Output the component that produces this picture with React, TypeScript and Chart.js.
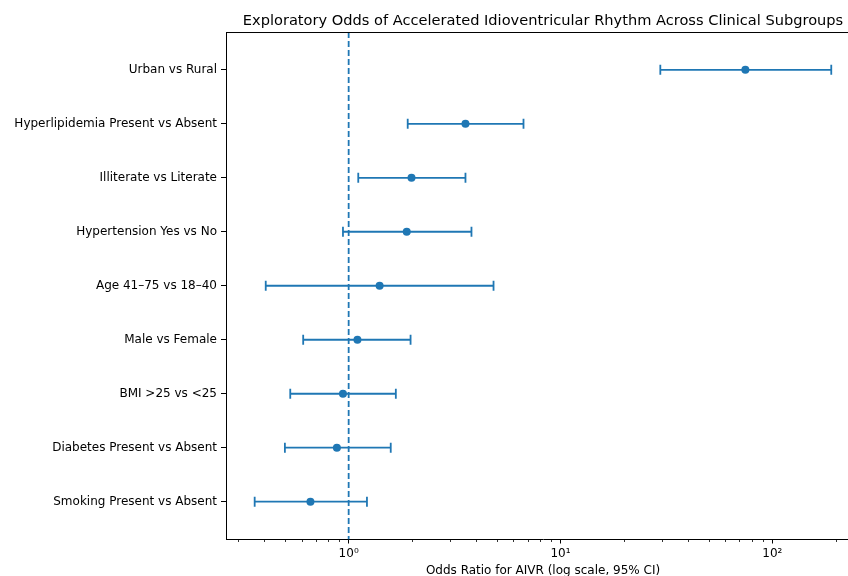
import React, { useEffect, useRef } from "react";
import { Chart, registerables } from "chart.js";

Chart.register(...registerables);

const categories = [
  "Urban vs Rural",
  "Hyperlipidemia Present vs Absent",
  "Illiterate vs Literate",
  "Hypertension Yes vs No",
  "Age 41–75 vs 18–40",
  "Male vs Female",
  "BMI >25 vs <25",
  "Diabetes Present vs Absent",
  "Smoking Present vs Absent",
];
const oddsRatios = [74.6, 3.56, 1.98, 1.88, 1.4, 1.1, 0.94, 0.88, 0.66];
const ciLower = [29.6, 1.9, 1.11, 0.94, 0.406, 0.61, 0.53, 0.5, 0.36];
const ciUpper = [189.8, 6.69, 3.56, 3.8, 4.83, 1.96, 1.67, 1.58, 1.22];
const referenceOR = 1;
const majorTicks = [1, 10, 100];
const majorTickLabels = ["10⁰", "10¹", "10²"];
const minorTicks = [0.3, 0.4, 0.5, 0.6, 0.7, 0.8, 0.9, 2, 3, 4, 5, 6, 7, 8, 9, 20, 30, 40, 50, 60, 70, 80, 90, 200];
const xMin = 0.2636;
const xMax = 259.4;
const yMin = -0.7;
const yMax = 8.7;

const titleText = "Exploratory Odds of Accelerated Idioventricular Rhythm Across Clinical Subgroups";
const xTitle = "Odds Ratio for AIVR (log scale, 95% CI)";

const BLUE = "#1f77b4";
const FONT = "'DejaVu Sans', sans-serif";

export default function App() {
  const ref = useRef<HTMLCanvasElement | null>(null);

  useEffect(() => {
    const canvas = ref.current;
    if (!canvas) return;

    const framePlugin = {
      id: "frame",
      beforeDraw(chart: any) {
        const { ctx } = chart;
        ctx.save();
        ctx.fillStyle = "#ffffff";
        ctx.fillRect(0, 0, chart.width, chart.height);
        ctx.restore();
      },
      afterDraw(chart: any) {
        const { ctx, chartArea } = chart;
        const xs = chart.scales.x;
        ctx.save();
        ctx.strokeStyle = "#000";
        ctx.lineWidth = 1;
        ctx.beginPath();
        ctx.moveTo(chartArea.left, chartArea.top + 0.5);
        ctx.lineTo(chartArea.right, chartArea.top + 0.5);
        ctx.moveTo(chartArea.right - 0.5, chartArea.top);
        ctx.lineTo(chartArea.right - 0.5, chartArea.bottom);
        ctx.stroke();
        ctx.lineWidth = 0.8;
        ctx.beginPath();
        for (const v of minorTicks) {
          const px = Math.round(xs.getPixelForValue(v)) + 0.5;
          ctx.moveTo(px, chartArea.bottom);
          ctx.lineTo(px, chartArea.bottom + 2.5);
        }
        ctx.stroke();
        ctx.restore();
      },
    };

    const ciDatasets = categories.map((_, i) => ({
      type: "scatter" as const,
      label: "ci" + i,
      data: [
        { x: ciLower[i], y: i },
        { x: ciUpper[i], y: i },
      ],
      showLine: true,
      borderColor: BLUE,
      borderWidth: 1.8,
      pointStyle: "line" as const,
      rotation: 90,
      pointRadius: 5,
      pointBorderWidth: 1.8,
      pointBorderColor: BLUE,
      pointBackgroundColor: BLUE,
      order: 2,
    }));

    const chart = new Chart(canvas, {
      type: "scatter",
      data: {
        datasets: [
          {
            label: "ref",
            data: [
              { x: referenceOR, y: yMin },
              { x: referenceOR, y: yMax },
            ],
            showLine: true,
            borderColor: BLUE,
            borderWidth: 1.8,
            borderDash: [6, 3],
            pointRadius: 0,
            order: 0,
          },
          {
            label: "or",
            data: oddsRatios.map((v, i) => ({ x: v, y: i })),
            pointRadius: 4,
            pointBackgroundColor: BLUE,
            pointBorderWidth: 0,
            borderColor: BLUE,
            backgroundColor: BLUE,
            order: 1,
          },
          ...ciDatasets,
        ] as any,
      },
      options: {
        responsive: false,
        animation: false,
        devicePixelRatio: 1,
        layout: { padding: { left: 0, right: 20, top: 0, bottom: 0 } },
        plugins: {
          legend: { display: false },
          tooltip: { enabled: false },
          title: {
            display: true,
            text: titleText,
            fullSize: false,
            color: "#000",
            font: { family: FONT, size: 14.6, weight: "normal" as any, lineHeight: 1.2 },
            padding: { top: 12.2, bottom: 2.3 },
          },
        },
        scales: {
          x: {
            type: "logarithmic",
            position: "bottom",
            min: xMin,
            max: xMax,
            afterBuildTicks: (scale: any) => {
              scale.ticks = majorTicks.map((v) => ({ value: v, major: true }));
            },
            afterFit: (scale: any) => {
              scale.height = 50.5;
            },
            ticks: {
              color: "#000",
              font: { family: FONT, size: 12 },
              padding: 3,
              autoSkip: false,
              maxRotation: 0,
              callback: (value: any) => {
                const idx = majorTicks.indexOf(Number(value));
                return idx >= 0 ? majorTickLabels[idx] : "";
              },
            },
            grid: {
              display: true,
              drawOnChartArea: false,
              drawTicks: true,
              tickLength: 4,
              tickColor: "#000",
              tickWidth: 1,
            },
            border: { display: true, color: "#000", width: 1 },
            title: {
              display: true,
              text: xTitle,
              color: "#000",
              font: { family: FONT, size: 12, lineHeight: 1.2 },
              padding: { top: 2, bottom: 12.3 },
            },
          },
          y: {
            type: "linear",
            position: "left",
            reverse: true,
            min: yMin,
            max: yMax,
            afterBuildTicks: (scale: any) => {
              scale.ticks = categories.map((_, i) => ({ value: i }));
            },
            afterFit: (scale: any) => {
              scale.width = 226;
            },
            ticks: {
              color: "#000",
              font: { family: FONT, size: 12 },
              padding: 4,
              autoSkip: false,
              callback: (value: any) => categories[Number(value)] ?? "",
            },
            grid: {
              display: true,
              drawOnChartArea: false,
              drawTicks: true,
              tickLength: 5,
              tickColor: "#000",
              tickWidth: 1,
            },
            border: { display: true, color: "#000", width: 1 },
          },
        },
      } as any,
      plugins: [framePlugin],
    });

    return () => chart.destroy();
  }, []);

  return (
    <div
      style={{
        position: "fixed",
        left: 0,
        top: 0,
        width: 848,
        height: 576,
        overflow: "hidden",
        background: "#fff",
      }}
    >
      <canvas ref={ref} width={880} height={590} style={{ width: 880, height: 590, display: "block" }} />
    </div>
  );
}
